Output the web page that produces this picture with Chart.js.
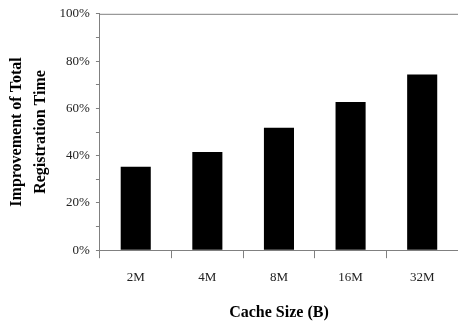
<!DOCTYPE html>
<html lang="en">
<head>
    <meta charset="UTF-8">
    <title>Improvement vs Cache Size</title>
    <script src="https://cdn.jsdelivr.net/npm/chart.js"></script>
    <style>
        body {
            margin: 0;
            padding: 0;
            background-color: #ffffff;
        }
    </style>
</head>
<body>
    <canvas id="cacheChart" width="458" height="326"></canvas>

    <script>
        // data
        const cacheSizes = ["2M", "4M", "8M", "16M", "32M"];
        const improvement = [35.3, 41.5, 51.8, 62.7, 74.3];
        const yTickLabels = ["0%", "20%", "40%", "60%", "80%", "100%"];

        // top frame line, the rest comes from the axes
        const topLine = {
            id: "topLine",
            afterDraw(chart) {
                let a = chart.chartArea;
                let ctx = chart.ctx;
                ctx.save();
                ctx.strokeStyle = "#808080";
                ctx.lineWidth = 1;
                ctx.beginPath();
                ctx.moveTo(a.left, a.top + 0.5);
                ctx.lineTo(a.right, a.top + 0.5);
                ctx.stroke();
                ctx.restore();
            }
        };

        let ctx = document.getElementById("cacheChart").getContext("2d");
        new Chart(ctx, {
            type: "bar",
            data: {
                labels: cacheSizes,
                datasets: [{
                    label: "Improvement",
                    data: improvement,
                    backgroundColor: "#000000",
                    barPercentage: 0.42,
                    categoryPercentage: 1
                }]
            },
            options: {
                responsive: false,
                animation: false,
                layout: { padding: { top: 10, right: 0, bottom: 4, left: 4 } },
                plugins: {
                    legend: { display: false },
                    tooltip: { enabled: false }
                },
                scales: {
                    x: {
                        grid: {
                            offset: true,
                            drawOnChartArea: false,
                            tickLength: 8,
                            color: "#808080"
                        },
                        border: { color: "#808080" },
                        ticks: {
                            font: { family: "Liberation Serif", size: 13 },
                            color: "#222",
                            padding: 12
                        },
                        title: {
                            display: true,
                            text: "Cache Size (B)",
                            font: { family: "Liberation Serif", size: 16, weight: "bold" },
                            color: "#000",
                            padding: { top: 5, bottom: 0 }
                        }
                    },
                    y: {
                        min: 0,
                        max: 100,
                        ticks: {
                            stepSize: 10,
                            font: { family: "Liberation Serif", size: 13 },
                            color: "#222",
                            padding: 6,
                            callback: (v) => (v % 20 === 0 ? yTickLabels[v / 20] : "")
                        },
                        grid: {
                            drawOnChartArea: false,
                            tickLength: 4,
                            color: "#808080"
                        },
                        border: { color: "#808080" },
                        title: {
                            display: true,
                            text: ["Improvement of Total", "Registration Time"],
                            font: { family: "Liberation Serif", size: 16, weight: "bold", lineHeight: 1.55 },
                            color: "#000",
                            padding: { top: 0, bottom: 0 }
                        }
                    }
                }
            },
            plugins: [topLine]
        });
    </script>
</body>
</html>
